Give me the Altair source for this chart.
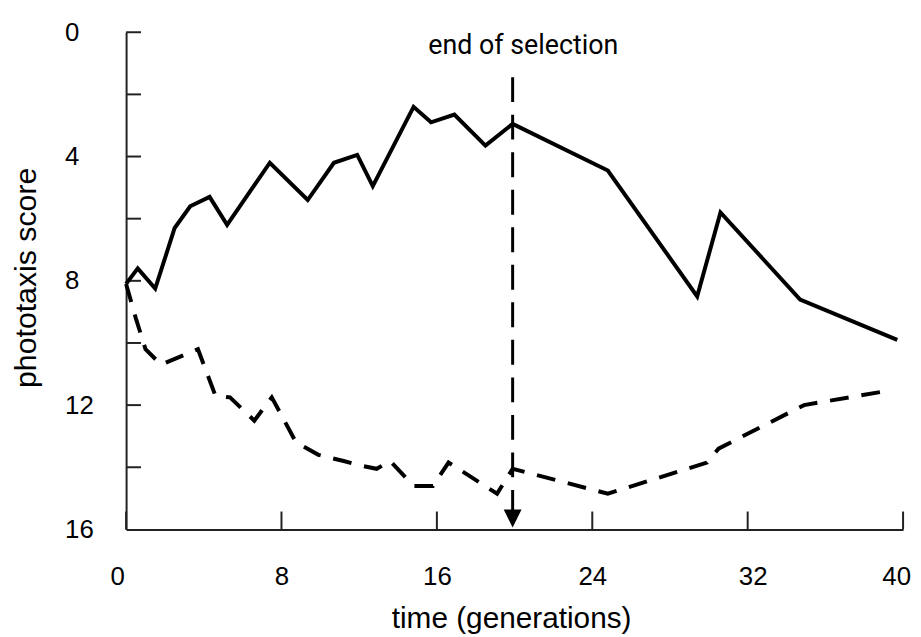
import altair as alt
import pandas as pd

# Upward-selected line (solid)
up_time = [0, 0.6, 1.5, 2.5, 3.3, 4.3, 5.2, 7.4, 9.35, 10.7, 11.9, 12.7, 14.8, 15.7,
           16.9, 18.5, 19.9, 24.8, 29.4, 30.6, 34.7, 39.7]
up_score = [8.1, 7.6, 8.25, 6.3, 5.6, 5.3, 6.2, 4.2, 5.4, 4.2, 3.95, 4.95, 2.4, 2.9,
            2.65, 3.65, 2.95, 4.45, 8.5, 5.8, 8.6, 9.9]

# Downward-selected line (dashed)
down_time = [0, 0.5, 1.0, 1.8, 3.7, 4.6, 5.35, 6.6, 7.5, 8.75, 9.9, 11.2, 12.1, 12.9,
             13.6, 14.8, 15.8, 16.6, 19.1, 19.9, 24.8, 29.9, 30.5, 34.9, 39.1]
down_score = [8.1, 9.2, 10.2, 10.7, 10.2, 11.7, 11.75, 12.5, 11.75, 13.2, 13.6, 13.8,
              13.95, 14.05, 13.8, 14.6, 14.6, 13.85, 14.85, 14.05, 14.85, 13.85, 13.4,
              12.0, 11.55]

# End-of-selection marker
sel_time = [19.9]
sel_top = [1.45]
sel_bottom = [15.4]
arrow_score = [15.65]
note_text = ["end of selection"]
note_time = [20.45]
note_score = [0.70]

x_ticks = [0, 8, 16, 24, 32, 40]
y_ticks = [0, 2, 4, 6, 8, 10, 12, 14]
y_labels = [0, 4, 8, 12, 16]

W, H = 783, 501

up_df = pd.DataFrame({"time": up_time, "score": up_score})
down_df = pd.DataFrame({"time": down_time, "score": down_score})
sel_df = pd.DataFrame({"time": sel_time, "top": sel_top, "bottom": sel_bottom})
arrow_df = pd.DataFrame({"time": sel_time, "score": arrow_score})
note_df = pd.DataFrame({"time": note_time, "score": note_score, "text": note_text})
xt_df = pd.DataFrame({"time": x_ticks})
yt_df = pd.DataFrame({"score": y_ticks})

AX = "#222222"
FONT = "Liberation Sans"

x_scale = alt.Scale(domain=[0, 40], nice=False, zero=False)
y_scale = alt.Scale(domain=[0, 16], nice=False, zero=False, reverse=True)

x_label_offset = {
    "condition": [
        {"test": "datum.value === 0", "value": -9},
        {"test": "datum.value === 32", "value": 5},
        {"test": "datum.value === 40", "value": -7},
    ],
    "value": 0,
}

x_axis = alt.Axis(
    values=x_ticks, ticks=False, tickSize=0, grid=False,
    domainColor=AX, domainWidth=2,
    labelFont=FONT, labelFontSize=26, labelColor="black", labelPadding=35,
    labelFlush=False, labelOverlap=False, labelBaseline="top",
    labelOffset=x_label_offset,
    title="time (generations)", titleFont=FONT, titleFontSize=30,
    titleFontWeight="normal", titleColor="black",
    titleX=388, titleY=99, titleBaseline="alphabetic", titleAlign="center",
)
y_axis = alt.Axis(
    values=y_labels, ticks=False, tickSize=0, grid=False,
    domainColor=AX, domainWidth=2,
    labelFont=FONT, labelFontSize=26, labelColor="black", labelPadding=62,
    labelAlign="left", labelBaseline="middle",
    labelFlush=False, labelOverlap=False,
    title="phototaxis score", titleFont=FONT, titleFontSize=30.5,
    titleFontWeight="normal", titleColor="black",
    titleAngle=270, titleX=-91, titleY=247, titleBaseline="alphabetic",
    titleAlign="center",
)

up = alt.Chart(up_df).mark_line(color="black", strokeWidth=4).encode(
    x=alt.X("time:Q", scale=x_scale, axis=x_axis),
    y=alt.Y("score:Q", scale=y_scale, axis=y_axis),
)
down = alt.Chart(down_df).mark_line(color="black", strokeWidth=4,
                                    strokeDash=[19, 13]).encode(
    x="time:Q", y="score:Q"
)
sel = alt.Chart(sel_df).mark_rule(color="black", strokeWidth=3,
                                  strokeDash=[25, 12.8]).encode(
    x="time:Q", y="top:Q", y2="bottom:Q"
)
arrow = alt.Chart(arrow_df).mark_point(
    shape="M-1,-1L1,-1L0,1Z", filled=True, color="black", opacity=1, size=324
).encode(x="time:Q", y="score:Q")
note = alt.Chart(note_df).mark_text(
    font="Roboto", fontSize=27, align="center", baseline="alphabetic", color="black"
).encode(x="time:Q", y="score:Q", text="text:N")

xt = alt.Chart(xt_df).mark_rule(color=AX, strokeWidth=2).encode(
    x="time:Q", y=alt.value(H), y2=alt.value(H - 18)
)
yt = alt.Chart(yt_df).mark_rule(color=AX, strokeWidth=2).encode(
    y="score:Q", x=alt.value(0), x2=alt.value(15)
)

chart = alt.layer(xt, yt, down, up, sel, arrow, note).properties(
    width=W, height=H,
    autosize=alt.AutoSizeParams(type="none"),
    padding={"left": 119, "top": 22, "right": 10, "bottom": 106},
    background="white",
).configure_view(stroke=None)

chart.save("out.html", embed_options={"renderer": "svg", "actions": False})
